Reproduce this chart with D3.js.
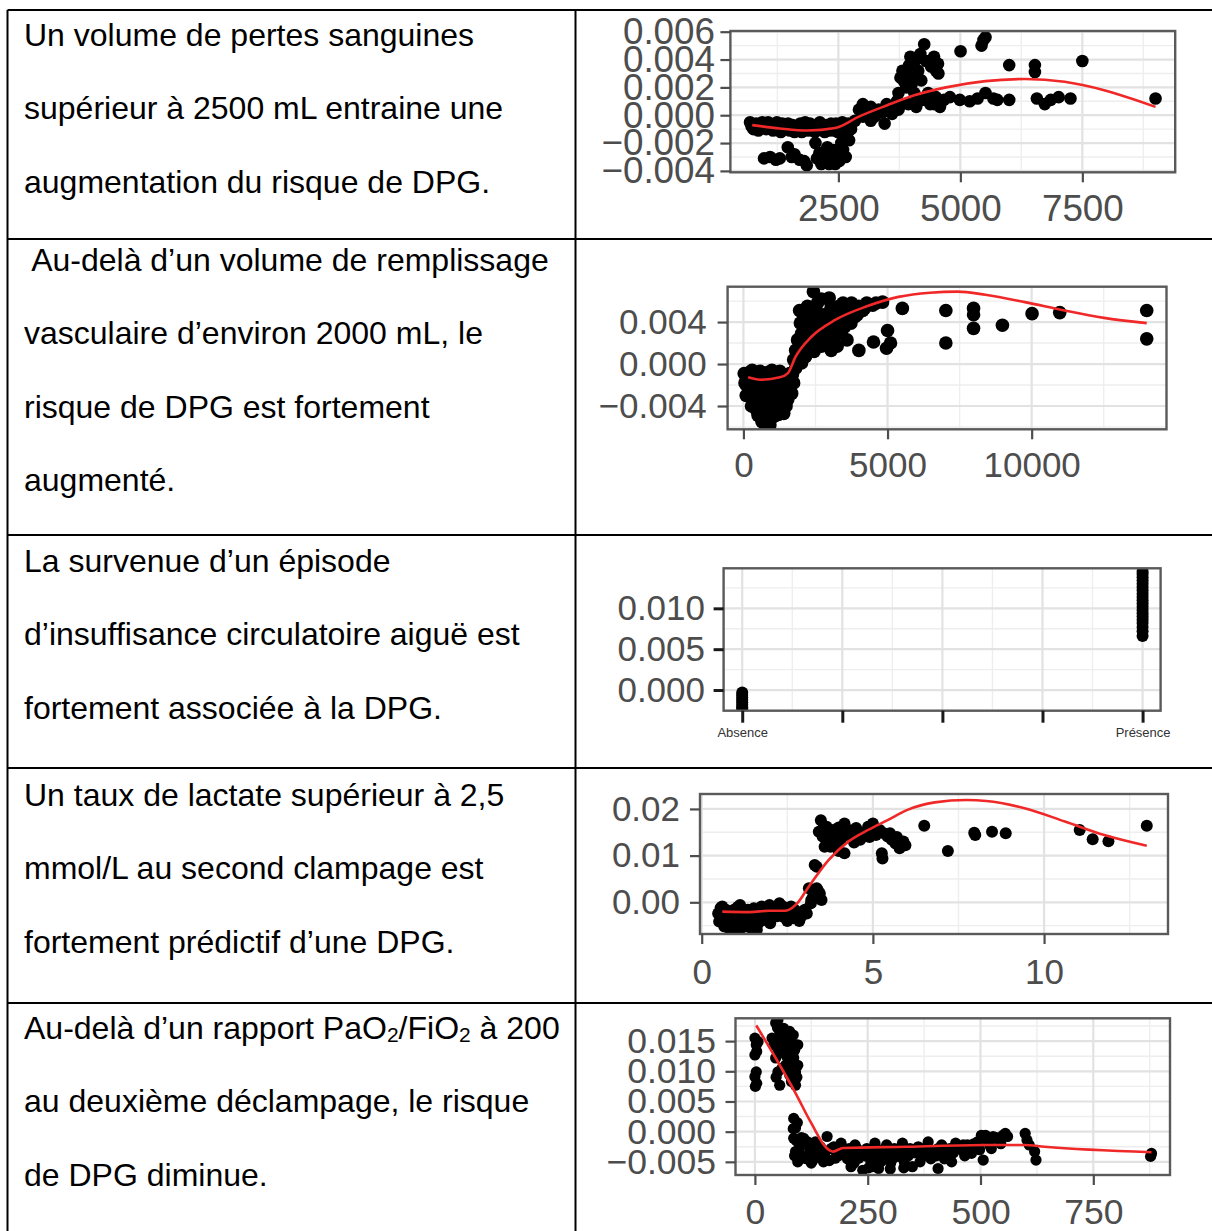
<!DOCTYPE html>
<html lang="fr">
<head>
<meta charset="utf-8">
<title>Facteurs associés à la DPG</title>
<script src="https://cdn.jsdelivr.net/npm/d3@7"></script>
<style>
  html, body { margin: 0; padding: 0; background: #fff; }
  svg { display: block; }
</style>
</head>
<body>
<svg id="fig" width="1212" height="1231"></svg>
<script>
// ---------- Texte des lignes du tableau ----------
// {2} marque un indice (PaO2 / FiO2)
const rowTexts = [
  ["Un volume de pertes sanguines", "supérieur à 2500 mL entraine une", "augmentation du risque de DPG."],
  [" Au-delà d’un volume de remplissage", "vasculaire d’environ 2000 mL, le", "risque de DPG est fortement", "augmenté."],
  ["La survenue d’un épisode", "d’insuffisance circulatoire aiguë est", "fortement associée à la DPG."],
  ["Un taux de lactate supérieur à 2,5", "mmol/L au second clampage est", "fortement prédictif d’une DPG."],
  ["Au-delà d’un rapport PaO{2}/FiO{2} à 200", "au deuxième déclampage, le risque", "de DPG diminue."]
];

// ---------- 1. Pertes sanguines (mL) ----------
const pertesXTicks = [2500, 5000, 7500];
const pertesYTicks = [-0.004, -0.002, 0.000, 0.002, 0.004, 0.006];
const pertesPoints = [
  [690,-0.0005],[720,-0.0008],[820,-0.0006],[900,-0.0009],[980,-0.0007],[1060,-0.0005],[1120,-0.0009],
  [1200,-0.0007],[1280,-0.0010],[1350,-0.0006],[1430,-0.0008],[1500,-0.0011],[1560,-0.0007],[1640,-0.0009],
  [1720,-0.0006],[1780,-0.0010],[1850,-0.0008],[1920,-0.0006],[1990,-0.0010],[2050,-0.0008],[2120,-0.0005],
  [2180,-0.0009],[2250,-0.0007],[2320,-0.0011],[2380,-0.0008],[2450,-0.0006],[2520,-0.0009],[2580,-0.0005],
  [2620,-0.0012],
  [760,-0.0010],[860,-0.0011],[940,-0.0005],[1020,-0.0010],[1160,-0.0011],[1240,-0.0005],[1320,-0.0012],
  [1400,-0.0010],[1470,-0.0006],[1530,-0.0009],[1600,-0.0012],[1680,-0.0008],[1750,-0.0012],[1820,-0.0005],
  [1880,-0.0011],[1960,-0.0008],[2020,-0.0012],[2090,-0.0010],[2150,-0.0007],[2220,-0.0012],[2290,-0.0009],
  [2350,-0.0006],[2420,-0.0011],[2490,-0.0012],[2550,-0.0008],[2650,-0.0008],[2700,-0.0006],
  [976,-0.0031],[1220,-0.0032],[1463,-0.0023],[1544,-0.0030],[1706,-0.0032],[1852,-0.0036],[2030,-0.0020],
  [2111,-0.0027],[2192,-0.0033],[2273,-0.0023],[2354,-0.0030],[2435,-0.0035],[2475,-0.0028],[2516,-0.0033],
  [2597,-0.0025],[2597,-0.0015],[2719,-0.0018],[2759,-0.0010],
  [1100,-0.0030],[1300,-0.0031],[1600,-0.0028],[1800,-0.0033],[2060,-0.0031],[2150,-0.0035],[2230,-0.0029],
  [2310,-0.0035],[2400,-0.0025],[2560,-0.0020],[2650,-0.0030],[2680,-0.0013],
  [2840,-0.0004],[2921,0.0004],[3002,0.0008],[3083,0.0001],[3164,0.0006],[3245,-0.0001],[3326,0.0004],
  [3448,-0.0006],[3489,0.0008],[3570,0.0004],[3651,0.0006],[3002,-0.0001],[3164,-0.0004],
  [3200,0.0002],[3400,0.0002],[3600,0.0001],[3700,0.0010],[3800,0.0008],
  [3732,0.0004],[3732,0.0016],[3772,0.0027],[3813,0.0032],[3894,0.0020],[3934,0.0008],[3975,0.0042],
  [4015,0.0027],[4056,0.0016],[4096,0.0006],[4137,0.0032],[4259,0.0051],[4299,0.0039],[4340,0.0016],
  [4380,0.0008],[4461,0.0042],[4502,0.0032],[4542,0.0037],[4583,0.0006],
  [3850,0.0024],[3900,0.0030],[3950,0.0036],[4000,0.0022],[4100,0.0040],[4180,0.0044],[4200,0.0025],
  [4400,0.0035],[4420,0.0040],[4480,0.0036],[4550,0.0030],[4100,0.0010],[4300,0.0012],[4500,0.0013],
  [4218,0.0011],[4461,0.0008],[4664,0.0011],[4786,0.0013],[4988,0.0011],[5191,0.0010],[5353,0.0012],
  [5515,0.0016],[5677,0.0012],[5758,0.0011],[6001,0.0011],[6568,0.0012],[6730,0.0008],[6852,0.0011],
  [7014,0.0013],[7257,0.0012],
  [5004,0.0046],[5434,0.0050],[5474,0.0054],[5515,0.0056],[6001,0.0036],[6528,0.0036],[6528,0.0031],
  [7500,0.0039],[9000,0.0012]
];
const pertesFit = [
  [734,-0.00071],[1300,-0.00095],[1868,-0.0011],[2435,-0.00092],[2921,-0.00010],[3489,0.0007],
  [4056,0.00143],[4705,0.0020],[5515,0.00245],[6325,0.0026],[7135,0.0024],[7946,0.0018],[9000,0.0006]
];

// ---------- 2. Remplissage vasculaire (mL) ----------
const remplXTicks = [0, 5000, 10000];
const remplYTicks = [-0.004, 0.000, 0.004];
const remplPoints = [
  [27,-0.0009],[55,-0.0018],[96,-0.0030],[165,-0.0012],[302,-0.0006],[370,-0.0041],[439,-0.0025],
  [508,-0.0049],[576,-0.0007],[645,-0.0034],[713,-0.0055],[782,-0.0015],[850,-0.0044],[919,-0.0058],
  [988,-0.0006],[988,-0.0031],[1056,-0.0050],[1125,-0.0022],[1193,-0.0041],[1262,-0.0007],[1330,-0.0028],
  [1399,-0.0047],[1468,-0.0015],[1536,-0.0034],[1605,-0.0009],[1673,-0.0028],[1742,-0.0018],[1811,-0.0004],
  [233,-0.0031],[370,-0.0022],[576,-0.0041],[782,-0.0034],[988,-0.0044],[1125,-0.0037],[919,-0.0018],
  [713,-0.0012],[1262,-0.0018],[1399,-0.0012],[1536,-0.0022],[645,-0.0055],[850,-0.0060],
  [100,-0.0020],[200,-0.0008],[280,-0.0040],[300,-0.0018],[350,-0.0030],[420,-0.0010],[480,-0.0045],
  [520,-0.0020],[560,-0.0028],[600,-0.0050],[650,-0.0018],[700,-0.0040],[750,-0.0025],[800,-0.0052],
  [830,-0.0008],[880,-0.0028],[950,-0.0050],[1000,-0.0020],[1050,-0.0040],[1100,-0.0010],[1160,-0.0030],
  [1220,-0.0048],[1280,-0.0025],[1350,-0.0038],[1420,-0.0022],[1480,-0.0040],[1560,-0.0012],[1620,-0.0020],
  [1700,-0.0010],[760,-0.0058],[680,-0.0046],[900,-0.0036],
  [1742,0.0004],[1811,0.0013],[1879,0.0023],[1948,0.0051],[1975,0.0039],[2016,0.0029],[2085,0.0045],
  [2154,0.0017],[2222,0.0055],[2291,0.0036],[2359,0.0023],[2428,0.0069],[2496,0.0042],[2565,0.0029],
  [2565,0.0058],[2702,0.0017],[2771,0.0036],[2908,0.0048],[2976,0.0063],[2976,0.0023],[3113,0.0039],
  [3182,0.0017],[3319,0.0055],[3388,0.0029],[3456,0.0058],[3525,0.0045],[3594,0.0023],[3662,0.0056],
  [3731,0.0039],[3800,0.0055],[3868,0.0045],[4005,0.0055],[4142,0.0051],[4279,0.0058],[4485,0.0056],
  [4828,0.0059],[3045,0.0013],[3251,0.0017],[2154,0.0007],[1948,0.0009],[2016,0.0001],
  [2050,0.0010],[2120,0.0032],[2200,0.0040],[2300,0.0050],[2400,0.0030],[2450,0.0012],[2550,0.0050],
  [2650,0.0040],[2700,0.0062],[2850,0.0030],[3000,0.0045],[3050,0.0055],[3200,0.0028],[3300,0.0040],
  [3400,0.0050],[3500,0.0035],[3650,0.0048],[3750,0.0058],[3950,0.0047],[4200,0.0053],[4600,0.0058],
  [2500,0.0020],[2800,0.0025],
  [4005,0.0013],[4513,0.0021],[5000,0.0032],[5103,0.0020],[4965,0.0015],[5514,0.0053],[7023,0.0051],
  [7023,0.0020],[7984,0.0053],[7984,0.0047],[7984,0.0034],[8985,0.0037],[10014,0.0048],[10974,0.0049],
  [13992,0.0051],[13992,0.0024]
];
const remplFit = [
  [165,-0.00127],[576,-0.0015],[1262,-0.00127],[1536,-0.00089],[1811,0.0007],[2359,0.0026],
  [3182,0.0042],[4279,0.0055],[5377,0.0064],[6474,0.0068],[7435,0.0069],[8395,0.0066],
  [9767,0.0059],[11138,0.0051],[12510,0.0044],[13992,0.0039]
];

// ---------- 3. Insuffisance circulatoire aiguë ----------
const circXTickLabels = ["Absence", "", "", "", "Présence"];
const circYTicks = [0.000, 0.005, 0.010];
const circAbsence = [-0.0003,-0.0006,-0.0009,-0.0012,-0.0015,-0.0018,-0.0021,-0.0023];
const circPresence = [0.0066,0.0072,0.0077,0.0082,0.0086,0.0090,0.0094,0.0098,0.0102,0.0106,
  0.0110,0.0114,0.0118,0.0122,0.0126,0.0130,0.0134,0.0138,0.0142,0.0145];

// ---------- 4. Lactate au second clampage (mmol/L) ----------
const lactXTicks = [0, 5, 10];
const lactYTicks = [0.00, 0.01, 0.02];
const lactPoints = [
  [0.48,-0.0024],[0.51,-0.0041],[0.60,-0.0009],[0.66,-0.0052],[0.77,-0.0031],[0.83,-0.0059],[0.94,-0.0016],
  [1.00,-0.0041],[1.12,-0.0006],[1.17,-0.0031],[1.29,-0.0052],[1.35,-0.0016],[1.46,-0.0038],[1.52,-0.0013],
  [1.61,-0.0059],[1.69,-0.0031],[1.75,-0.0009],[1.86,-0.0024],[1.98,-0.0006],[2.04,-0.0034],[2.15,-0.0016],
  [2.27,-0.0002],[2.38,-0.0031],[2.44,-0.0013],[2.55,-0.0024],[2.67,-0.0034],[2.78,-0.0020],[2.90,-0.0031],
  [3.01,-0.0016],[0.71,-0.0016],[1.06,-0.0024],[1.40,-0.0027],[1.81,-0.0038],[2.09,-0.0024],[2.32,-0.0016],
  [2.61,-0.0009],
  [0.55,-0.0012],[0.70,-0.0040],[0.90,-0.0030],[1.05,-0.0010],[1.20,-0.0045],[1.30,-0.0020],[1.55,-0.0028],
  [1.65,-0.0045],[1.90,-0.0015],[2.00,-0.0045],[2.20,-0.0030],[2.35,-0.0008],[2.50,-0.0040],[2.70,-0.0015],
  [2.85,-0.0040],[2.95,-0.0025],[1.10,-0.0060],[0.90,-0.0055],[1.45,-0.0055],[0.58,-0.0035],
  [3.07,-0.0024],[3.19,-0.0002],[3.25,0.0012],[3.30,0.0023],[3.36,0.0030],[3.45,0.0019],[3.30,0.0080],
  [3.36,0.0076],[3.13,0.0030],[3.20,0.0005],[3.35,0.0015],[3.40,0.0025],[3.50,0.0005],
  [3.42,0.0151],[3.48,0.0176],[3.53,0.0141],[3.65,0.0162],[3.71,0.0134],[3.76,0.0119],[3.88,0.0148],
  [3.94,0.0119],[4.05,0.0130],[4.17,0.0105],[4.17,0.0169],[4.28,0.0144],[4.40,0.0141],[4.51,0.0159],
  [4.63,0.0134],[4.74,0.0148],[4.86,0.0162],[5.00,0.0169],[5.09,0.0144],[5.20,0.0155],[5.32,0.0148],
  [5.28,0.0094],[5.26,0.0105],[5.43,0.0141],[5.55,0.0134],[5.66,0.0126],[5.78,0.0116],[5.89,0.0130],
  [3.84,0.0155],[3.59,0.0119],
  [3.55,0.0158],[3.70,0.0145],[3.90,0.0128],[4.00,0.0160],[4.10,0.0140],[4.30,0.0155],[4.45,0.0128],
  [4.60,0.0150],[4.90,0.0140],[5.05,0.0158],[5.50,0.0148],[5.70,0.0140],[5.95,0.0122],[4.00,0.0110],
  [6.50,0.0164],[7.19,0.0110],[7.96,0.0149],[7.99,0.0144],[8.48,0.0151],[8.88,0.0148],[11.04,0.0155],
  [11.42,0.0135],[11.88,0.0131],[13.00,0.0164]
];
const lactFit = [
  [0.60,-0.0020],[1.40,-0.0021],[1.98,-0.0018],[2.44,-0.0018],[2.78,-0.0003],[3.13,0.0034],[3.71,0.0091],
  [4.28,0.0130],[4.86,0.0155],[5.43,0.0176],[6.01,0.0198],[6.81,0.0214],[7.73,0.0219],[8.31,0.0217],
  [9.46,0.0201],[10.61,0.0173],[11.76,0.0144],[13.00,0.0121]
];

// ---------- 5. PaO2/FiO2 au deuxième déclampage ----------
const pfXTicks = [0, 250, 500, 750];
const pfYTicks = [-0.005, 0.000, 0.005, 0.010, 0.015];
const pfPoints = [
  [0,0.0155],[3,0.0144],[4,0.0133],[0,0.0127],[3,0.0099],[0,0.0091],[4,0.0080],[1,0.0075],[7,0.0149],
  [46,0.0180],[51,0.0185],[55,0.0166],[64,0.0171],[73,0.0157],[77,0.0166],[81,0.0149],[42,0.0144],
  [46,0.0122],[51,0.0099],[55,0.0077],[64,0.0133],[68,0.0110],[73,0.0138],[77,0.0094],[86,0.0122],
  [90,0.0099],[90,0.0077],[95,0.0144],[38,0.0155],[60,0.0149],[81,0.0083],[95,0.0110],
  [50,0.0172],[58,0.0158],[66,0.0150],[70,0.0125],[78,0.0140],[83,0.0110],[88,0.0135],[93,0.0090],
  [60,0.0105],[52,0.0135],[47,0.0090],[85,0.0160],[75,0.0115],
  [86,0.0022],[90,0.0006],[86,-0.0011],[90,-0.0033],[95,-0.0050],[99,-0.0022],
  [85,0.0005],[92,-0.0015],[88,-0.0040],[94,0.0015],[97,-0.0030],[100,-0.0045],[103,-0.0010],[105,-0.0040],
  [108,-0.0011],[112,-0.0044],[121,-0.0028],[125,-0.0052],[134,-0.0017],[143,-0.0039],[152,-0.0050],
  [160,-0.0008],[169,-0.0028],[178,-0.0044],[191,-0.0019],[200,-0.0036],[213,-0.0058],[222,-0.0022],
  [230,-0.0044],[239,-0.0064],[248,-0.0028],[257,-0.0050],[266,-0.0019],[274,-0.0061],[283,-0.0036],
  [292,-0.0022],[301,-0.0052],[309,-0.0028],[318,-0.0041],[327,-0.0019],[336,-0.0033],[349,-0.0058],
  [362,-0.0025],[371,-0.0041],[384,-0.0017],[397,-0.0033],[406,-0.0061],[414,-0.0022],[428,-0.0039],
  [436,-0.0050],[445,-0.0019],[458,-0.0030],[471,-0.0022],[480,-0.0036],[493,-0.0017],[506,-0.0047],
  [511,-0.0006],[520,-0.0022],[528,-0.0008],[542,-0.0014],[550,-0.0006],[555,-0.0003],[502,-0.0006],
  [117,-0.0017],[130,-0.0033],[138,-0.0022],[182,-0.0033],[209,-0.0028],[235,-0.0033],[261,-0.0033],
  [287,-0.0028],[313,-0.0033],[344,-0.0028],[375,-0.0028],[406,-0.0028],[432,-0.0028],[462,-0.0022],
  [488,-0.0028],[524,-0.0028],
  [115,-0.0045],[128,-0.0048],[145,-0.0025],[155,-0.0035],[165,-0.0048],[175,-0.0025],[185,-0.0040],
  [195,-0.0030],[205,-0.0045],[218,-0.0035],[226,-0.0028],[243,-0.0040],[252,-0.0060],[262,-0.0042],
  [270,-0.0030],[279,-0.0050],[296,-0.0040],[305,-0.0045],[322,-0.0030],[331,-0.0050],[340,-0.0040],
  [355,-0.0035],[366,-0.0050],[380,-0.0030],[390,-0.0045],[402,-0.0040],[410,-0.0030],[420,-0.0045],
  [440,-0.0035],[450,-0.0025],[465,-0.0040],[476,-0.0030],[485,-0.0020],[498,-0.0030],[515,-0.0015],
  [535,-0.0010],[545,-0.0020],[560,-0.0008],[300,-0.0062],[260,-0.0058],[220,-0.0052],[330,-0.0060],
  [599,-0.0003],[603,-0.0014],[608,-0.0022],[620,-0.0033],[623,-0.0047],[879,-0.0036],[877,-0.0041]
];
const pfFit = [
  [3,0.0176],[46,0.0122],[90,0.0064],[125,0.0014],[160,-0.0028],[173,-0.0033],[195,-0.0027],
  [336,-0.0025],[511,-0.0022],[598,-0.0022],[642,-0.0025],[879,-0.0034]
];

// ---------- Mise en page ----------
const svg = d3.select("#fig");
const FONT = "'Liberation Sans', Arial, Helvetica, sans-serif";

const table = { left: 7.5, divider: 575.5, right: 1230, rowTops: [10, 239, 535, 768, 1003], bottom: 1240 };
const textLayout = { x: 24, size: 32, step: 73.3, firstBaselines: [46, 271, 572, 806, 1039] };

// Bordures du tableau
const borders = svg.append("g").attr("stroke", "#000").attr("stroke-width", 2).attr("fill", "none");
table.rowTops.forEach(yTop => {
  borders.append("line").attr("x1", table.left).attr("x2", table.right).attr("y1", yTop).attr("y2", yTop);
});
borders.append("line").attr("x1", table.left).attr("x2", table.left).attr("y1", table.rowTops[0]).attr("y2", table.bottom);
borders.append("line").attr("x1", table.divider).attr("x2", table.divider).attr("y1", table.rowTops[0]).attr("y2", table.bottom);

// Texte des cellules de gauche
rowTexts.forEach((lines, i) => {
  lines.forEach((ln, j) => {
    const t = svg.append("text")
      .attr("x", textLayout.x)
      .attr("y", textLayout.firstBaselines[i] + j * textLayout.step)
      .attr("font-family", FONT)
      .attr("font-size", textLayout.size)
      .attr("fill", "#000")
      .style("white-space", "pre");
    const parts = ln.split(/(\{\d\})/).filter(p => p.length);
    let shifted = false;
    parts.forEach(p => {
      const m = p.match(/^\{(\d)\}$/);
      if (m) {
        t.append("tspan").attr("font-size", 21).attr("dy", 3).text(m[1]);
        shifted = true;
      } else {
        const sp = t.append("tspan").text(p);
        if (shifted) { sp.attr("dy", -3); shifted = false; }
      }
    });
  });
});

// ---------- Graphiques ----------
const charts = [
  { id: "pertes", points: pertesPoints, fit: pertesFit,
    xDomain: [287, 9403], yDomain: [-0.0041, 0.00605],
    xTicks: pertesXTicks, yTicks: pertesYTicks, xFmt: d3.format("d"), yFmt: d3.format(".3f"),
    box: { left: 730.4, right: 1175.2, top: 31, bottom: 172.3 },
    labelSize: 36.8, xPad: 12.7, yPad: 5.4, r: 6.3 },
  { id: "rempl", points: remplPoints, fit: remplFit,
    xDomain: [-549, 14678], yDomain: [-0.00622, 0.00737],
    xTicks: remplXTicks, yTicks: remplYTicks, xFmt: d3.format("d"), yFmt: d3.format(".3f"),
    box: { left: 727.6, right: 1166.5, top: 286.7, bottom: 429.3 },
    labelSize: 35, xPad: 13, yPad: 11, r: 6.8 },
  { id: "circ", points: circAbsence.map(v => [0, v]).concat(circPresence.map(v => [circXTickLabels.length - 1, v])),
    fit: null,
    xDomain: [-0.186, 4.18], yDomain: [-0.00253, 0.0149],
    xTicks: d3.range(circXTickLabels.length), yTicks: circYTicks,
    xFmt: i => circXTickLabels[i], yFmt: d3.format(".3f"),
    box: { left: 723.6, right: 1160.6, top: 568.3, bottom: 710.7 },
    labelSize: 35, xLabelSize: 13, xPad: 5, yPad: 8.6, r: 6, darkTicks: true },
  { id: "lact", points: lactPoints, fit: lactFit,
    xDomain: [-0.05, 13.62], yDomain: [-0.00679, 0.0232],
    xTicks: lactXTicks, yTicks: lactYTicks, xFmt: d3.format("d"), yFmt: d3.format(".2f"),
    box: { left: 700, right: 1168, top: 794, bottom: 934 },
    labelSize: 35, xPad: 15, yPad: 10, r: 6 },
  { id: "pf", points: pfPoints, fit: pfFit,
    xDomain: [-43, 920], yDomain: [-0.00718, 0.01878],
    xTicks: pfXTicks, yTicks: pfYTicks, xFmt: d3.format("d"), yFmt: d3.format(".3f"),
    box: { left: 735.5, right: 1170, top: 1018.3, bottom: 1175 },
    labelSize: 35.5, xPad: 13.5, yPad: 9.5, r: 5.6 }
];

// lignes de grille secondaires : à mi-chemin entre les graduations principales
function minorBreaks(ticks, domain) {
  const step = ticks.length > 1 ? ticks[1] - ticks[0] : 1;
  const out = [];
  for (let v = ticks[0] - step / 2; v <= ticks[ticks.length - 1] + step; v += step) {
    if (v >= domain[0] && v <= domain[1]) out.push(v);
  }
  return out;
}

charts.forEach(c => {
  const b = c.box;
  const x = d3.scaleLinear().domain(c.xDomain).range([b.left, b.right]);
  const y = d3.scaleLinear().domain(c.yDomain).range([b.bottom, b.top]);
  const g = svg.append("g").attr("class", "chart-" + c.id);

  g.append("clipPath").attr("id", "clip-" + c.id)
    .append("rect").attr("x", b.left).attr("y", b.top)
    .attr("width", b.right - b.left).attr("height", b.bottom - b.top);

  g.append("rect").attr("x", b.left).attr("y", b.top)
    .attr("width", b.right - b.left).attr("height", b.bottom - b.top).attr("fill", "#fff");

  const grid = g.append("g").attr("fill", "none");
  minorBreaks(c.xTicks, c.xDomain).forEach(v => grid.append("line")
    .attr("x1", x(v)).attr("x2", x(v)).attr("y1", b.top).attr("y2", b.bottom)
    .attr("stroke", "#EEEEEE").attr("stroke-width", 1.4));
  minorBreaks(c.yTicks, c.yDomain).forEach(v => grid.append("line")
    .attr("x1", b.left).attr("x2", b.right).attr("y1", y(v)).attr("y2", y(v))
    .attr("stroke", "#EEEEEE").attr("stroke-width", 1.4));
  c.xTicks.forEach(v => grid.append("line")
    .attr("x1", x(v)).attr("x2", x(v)).attr("y1", b.top).attr("y2", b.bottom)
    .attr("stroke", "#E2E2E2").attr("stroke-width", 2.2));
  c.yTicks.forEach(v => grid.append("line")
    .attr("x1", b.left).attr("x2", b.right).attr("y1", y(v)).attr("y2", y(v))
    .attr("stroke", "#E2E2E2").attr("stroke-width", 2.2));

  const plot = g.append("g").attr("clip-path", "url(#clip-" + c.id + ")");
  plot.selectAll("circle").data(c.points).join("circle")
    .attr("cx", d => x(d[0])).attr("cy", d => y(d[1])).attr("r", c.r).attr("fill", "#000");

  if (c.fit) {
    plot.append("path").datum(c.fit)
      .attr("d", d3.line().x(d => x(d[0])).y(d => y(d[1])).curve(d3.curveMonotoneX))
      .attr("fill", "none").attr("stroke", "#F02828").attr("stroke-width", 2.6);
  }

  g.append("rect").attr("x", b.left).attr("y", b.top)
    .attr("width", b.right - b.left).attr("height", b.bottom - b.top)
    .attr("fill", "none").attr("stroke", "#5A5A5A").attr("stroke-width", 2.4);

  const tickColor = c.darkTicks ? "#1A1A1A" : "#4D4D4D";
  const tickWidth = c.darkTicks ? 3 : 2.2;

  const yAxis = g.append("g").attr("transform", `translate(${b.left},0)`)
    .call(d3.axisLeft(y).tickValues(c.yTicks).tickFormat(c.yFmt).tickSize(10).tickPadding(c.yPad));
  const xAxis = g.append("g").attr("transform", `translate(0,${b.bottom})`)
    .call(d3.axisBottom(x).tickValues(c.xTicks).tickFormat(c.xFmt).tickSize(c.darkTicks ? 12 : 10).tickPadding(c.xPad));

  [yAxis, xAxis].forEach(ax => {
    ax.select(".domain").remove();
    ax.selectAll(".tick line").attr("stroke", tickColor).attr("stroke-width", tickWidth);
    ax.selectAll(".tick text").attr("fill", "#4D4D4D")
      .attr("font-family", FONT).attr("font-size", c.labelSize);
  });
  if (c.xLabelSize) {
    xAxis.selectAll(".tick text").attr("font-size", c.xLabelSize).attr("fill", "#333");
  }
});
</script>
</body>
</html>
